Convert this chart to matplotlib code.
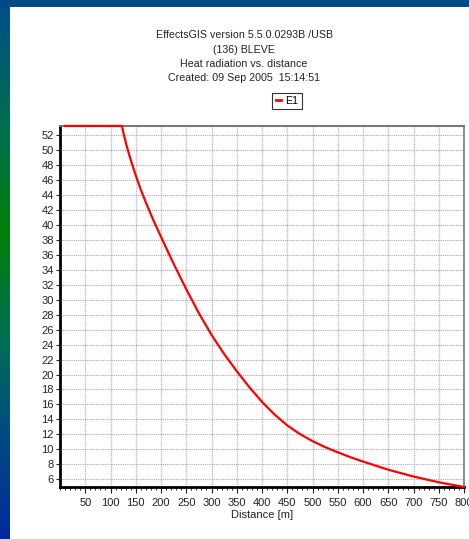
import numpy as np
import matplotlib
matplotlib.use('Agg')
import matplotlib.pyplot as plt
from matplotlib.colors import LinearSegmentedColormap
from matplotlib.patches import Rectangle
from matplotlib.lines import Line2D
from matplotlib.ticker import MultipleLocator

plt.rcParams['font.family'] = ['Liberation Sans', 'DejaVu Sans']

# heat radiation curve (clipped at the top of the plot)
distance = [10, 122.6, 126.6, 133, 140, 150, 160, 170, 185, 200, 225, 250, 275,
            300, 325, 350, 375, 400, 425, 450, 475, 500, 525, 550, 575, 600,
            650, 700, 750, 800]
radiation = [53.2, 53.2, 52, 50.3, 48.7, 46.6, 44.7, 43.0, 40.6, 38.4, 34.8, 31.4, 28.2,
             25.3, 22.75, 20.45, 18.3, 16.35, 14.65, 13.2, 12.05, 11.1, 10.3, 9.6, 8.95, 8.37,
             7.28, 6.37, 5.6, 4.97]

title_lines = ['EffectsGIS version 5.5.0.0293B /USB',
               '(136) BLEVE',
               'Heat radiation vs. distance',
               'Created: 09 Sep 2005  15:14:51']

W, H = 469, 539
fig = plt.figure(figsize=(W / 100, H / 100), dpi=100)
fig.patch.set_facecolor('white')

# window frame: gradient strip on the left, blue strip on top
cmap = LinearSegmentedColormap.from_list(
    'frame', [(0.0, '#004e88'), (0.25, '#00704c'), (0.43, '#008008'),
              (0.62, '#007050'), (0.8, '#004c80'), (1.0, '#002a9a')])
strip = fig.add_axes([0, 0, 9 / W, 1])
strip.imshow(np.linspace(0, 1, 256).reshape(-1, 1), aspect='auto', cmap=cmap)
strip.axis('off')
fig.patches.append(Rectangle((0, 1 - 7 / H), 1, 7 / H, transform=fig.transFigure,
                             facecolor='#004a86', edgecolor='none', zorder=5))

ax = fig.add_axes([60 / W, 1 - 487 / H, 404 / W, 361 / H])
ax.plot(distance, radiation, color='red', lw=1.6, zorder=3, clip_on=False)
ax.set_xlim(0, 800)
ax.set_ylim(4.97, 53.2)

ax.xaxis.set_minor_locator(MultipleLocator(10))
ax.set_xticks(np.arange(50, 801, 50))
ax.set_yticks(np.arange(6, 53, 2))
ax.tick_params(axis='both', labelsize=8, colors='#222222', direction='out')
ax.tick_params(axis='x', which='major', length=4, width=0.8, pad=4)
ax.tick_params(axis='x', which='minor', length=2, width=0.6)
ax.tick_params(axis='y', which='major', length=3, width=0.8, pad=1.5)

ax.grid(axis='y', color='#a8a8a8', lw=0.8, ls=(0, (1, 1)))
ax.grid(axis='x', which='major', color='#c0c0c0', lw=1.0, ls=(0, (1, 0.6)))

ax.spines['left'].set_linewidth(2)
ax.spines['bottom'].set_linewidth(2)
ax.spines['left'].set_color('black')
ax.spines['bottom'].set_color('black')
ax.spines['top'].set_color('#777777')
ax.spines['right'].set_color('#777777')
ax.spines['top'].set_linewidth(1.5)
ax.spines['right'].set_linewidth(1.2)

ax.set_xlabel('Distance [m]', fontsize=8, color='#222222', labelpad=1)

for i, line in enumerate(title_lines):
    fig.text(244 / W, 1 - (35.5 + 14.3 * i) / H, line, fontsize=7.7,
             ha='center', va='center', color='#222222')

handle = Line2D([], [], color='red', lw=2)
leg = fig.legend([handle], ['E1'], loc='center', bbox_to_anchor=(287 / W, 1 - 101 / H),
                 fontsize=7.7, handlelength=0.5, handletextpad=0.4, borderpad=0.3,
                 fancybox=False, edgecolor='#333333', framealpha=1)
leg.get_frame().set_linewidth(0.8)

fig.savefig('out.png', dpi=100, facecolor=fig.get_facecolor())
